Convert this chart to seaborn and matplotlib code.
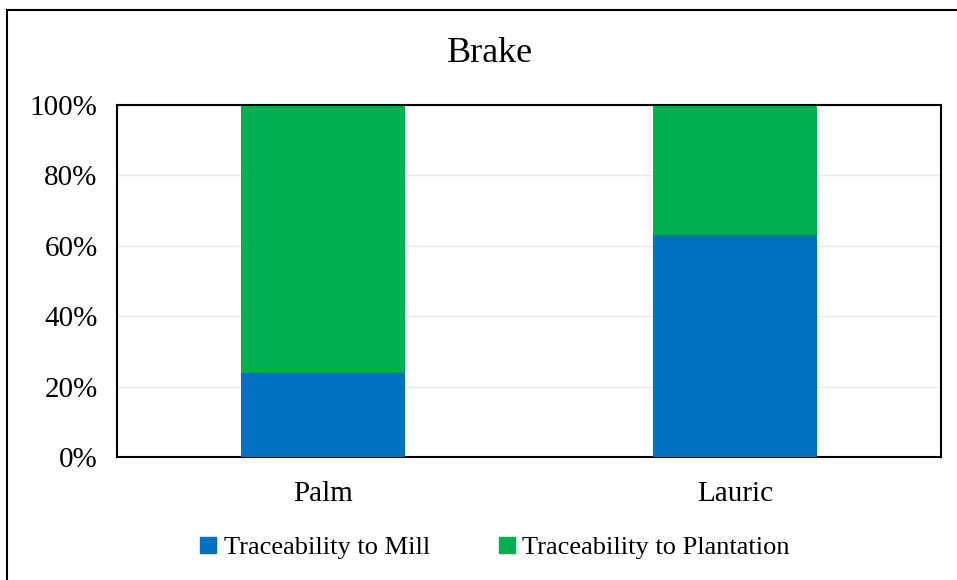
import numpy as np
import matplotlib.pyplot as plt
import matplotlib.patches as mpatches
import seaborn as sns
import pandas as pd

categories = ['Palm', 'Lauric']
mill = [24, 63]
plantation = [76, 37]
series_names = ['Traceability to Mill', 'Traceability to Plantation']
colors = ['#0070C0', '#00B050']

df = pd.DataFrame({'cat': categories, 'mill': mill, 'plantation': plantation})
df['top'] = df['mill'] + df['plantation']

sns.set_style('white')
plt.rcParams['font.family'] = ['Liberation Serif', 'DejaVu Serif']
plt.rcParams['text.color'] = 'black'
plt.rcParams['xtick.color'] = 'black'
plt.rcParams['ytick.color'] = 'black'

fig = plt.figure(figsize=(9.57, 5.8), dpi=100)
ax = fig.add_axes([117/957, 1-457/580, (941-117)/957, (457-105)/580])

# stacked: full height in green, mill share drawn over it in blue
sns.barplot(x='cat', y='top', data=df, color=colors[1], width=0.4,
            saturation=1, ax=ax, zorder=2, linewidth=0)
sns.barplot(x='cat', y='mill', data=df, color=colors[0], width=0.4,
            saturation=1, ax=ax, zorder=3, linewidth=0)

ax.set_xlim(-0.5, 1.5)
ax.set_ylim(0, 100)
ax.set_yticks(np.arange(0, 101, 20))
ax.set_yticklabels([f'{v}%' for v in range(0, 101, 20)], fontsize=21)
ax.tick_params(axis='x', labelsize=21, length=0, pad=17)
ax.tick_params(axis='y', length=0, pad=14)
ax.yaxis.grid(True, color='#E8E8E8', linewidth=1, zorder=0)
ax.set_axisbelow(True)
ax.set_xlabel('')
ax.set_ylabel('')
for s in ax.spines.values():
    s.set_color('black')
    s.set_linewidth(1.5)
    s.set_visible(True)

fig.text(490/957, 1-53/580, 'Brake', ha='center', va='center', fontsize=26)

handles = [mpatches.Patch(color=c, label=n) for c, n in zip(colors, series_names)]
fig.legend(handles=handles, loc='center', bbox_to_anchor=(495/957, 1-548/580),
           ncol=2, frameon=False, fontsize=19, handlelength=0.6, handleheight=0.6,
           handletextpad=0.3, columnspacing=2.6)

border = mpatches.Rectangle((7/957, -0.05), 1.0, 1-10/580+0.05, transform=fig.transFigure,
                            fill=False, edgecolor='black', linewidth=1.5)
fig.patches.append(border)

plt.savefig('out.png', dpi=100)
